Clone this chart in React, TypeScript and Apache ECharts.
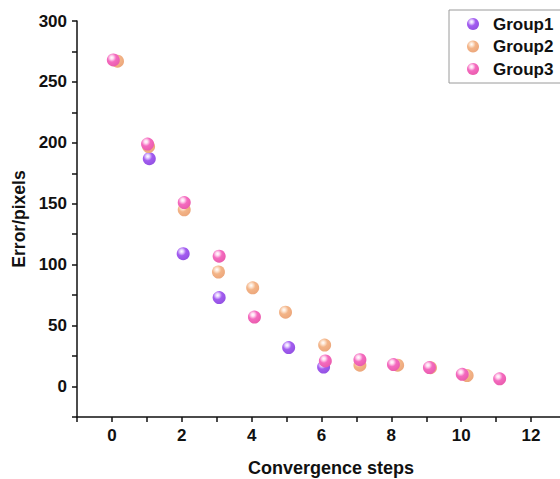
import React, { useEffect, useRef } from "react";
import * as echarts from "echarts";

const group1Steps = [1.07, 2.04, 3.07, 5.06, 6.06];
const group1Errors = [187, 109, 73, 32, 16];
const group2Steps = [0.16, 1.05, 2.07, 3.05, 4.03, 4.97, 6.09, 7.1, 8.18, 9.12, 10.17];
const group2Errors = [267, 197, 145, 94, 81, 61, 34, 17.5, 17.5, 15.5, 9];
const group3Steps = [0.04, 1.02, 2.07, 3.07, 4.08, 6.11, 7.1, 8.06, 9.09, 10.03, 11.1];
const group3Errors = [268, 199, 151, 107, 57, 21, 22, 18, 15.6, 10, 6.3];
const seriesNames = ["Group1", "Group2", "Group3"];
const baseColors = ["#a35cf0", "#f3b487", "#f46abf"];
const lightColors = ["#e6d2ff", "#fde6d4", "#ffd9f0"];
const darkColors = ["#9050e0", "#eba57a", "#e85aaa"];

const FONT = "Arial, 'Liberation Sans', sans-serif";

function sphere(i: number) {
  return new echarts.graphic.RadialGradient(0.38, 0.32, 0.75, [
    { offset: 0, color: "#ffffff" },
    { offset: 0.18, color: lightColors[i] },
    { offset: 0.45, color: baseColors[i] },
    { offset: 1, color: darkColors[i] },
  ]);
}

export default function App() {
  const ref = useRef<HTMLDivElement>(null);
  useEffect(() => {
    if (!ref.current) return;
    const chart = echarts.init(ref.current, undefined, { renderer: "svg" });
    const xs = [group1Steps, group2Steps, group3Steps];
    const ys = [group1Errors, group2Errors, group3Errors];
    chart.setOption({
      animation: false,
      backgroundColor: "#ffffff",
      grid: {
        left: 77,
        top: 21,
        width: 489,
        height: 396,
        containLabel: false,
        outerBoundsMode: "none",
      },
      legend: {
        orient: "vertical",
        left: 449,
        top: 10,
        padding: [5, 40, 5, 18],
        itemGap: 4.5,
        itemWidth: 12,
        itemHeight: 12,
        borderColor: "#9a9a9a",
        borderWidth: 1,
        data: seriesNames.map((n, i) => ({ name: n, icon: "circle", itemStyle: { color: sphere(i) } })),
        textStyle: {
          fontFamily: FONT,
          fontWeight: "bold",
          fontSize: 17,
          color: "#111",
          lineHeight: 18,
          padding: [0, 0, 0, 9],
        },
      },
      xAxis: {
        type: "value",
        min: -1,
        max: 13,
        interval: 1,
        name: "Convergence steps",
        nameLocation: "middle",
        nameGap: 42,
        nameTextStyle: {
          fontFamily: FONT,
          fontWeight: "bold",
          fontSize: 18,
          color: "#111",
          padding: [0, 0, 0, 19],
        },
        splitLine: { show: false },
        axisLine: { onZero: false, lineStyle: { color: "#111", width: 1.5 } },
        axisTick: { show: true, inside: false, length: 5, lineStyle: { color: "#111", width: 1.5 } },
        axisLabel: {
          fontFamily: FONT,
          fontWeight: "bold",
          fontSize: 17,
          color: "#111",
          margin: 10,
          formatter: (v: number) => (v >= 0 && v % 2 === 0 ? String(v) : ""),
        },
      },
      yAxis: {
        type: "value",
        min: -25,
        max: 300,
        interval: 25,
        name: "Error/pixels",
        nameLocation: "middle",
        nameGap: 48,
        nameTextStyle: { fontFamily: FONT, fontWeight: "bold", fontSize: 17.5, color: "#111" },
        splitLine: { show: false },
        axisLine: { onZero: false, lineStyle: { color: "#111", width: 1.5 } },
        axisTick: { show: true, inside: false, length: 5, lineStyle: { color: "#111", width: 1.5 } },
        axisLabel: {
          fontFamily: FONT,
          fontWeight: "bold",
          fontSize: 17,
          color: "#111",
          margin: 10,
          formatter: (v: number) => (v >= 0 && v % 50 === 0 ? String(v) : ""),
        },
      },
      series: seriesNames.map((n, i) => ({
        name: n,
        type: "scatter",
        symbol: "circle",
        symbolSize: 13,
        itemStyle: { color: sphere(i), opacity: 1 },
        emphasis: { disabled: true },
        data: xs[i].map((x, j) => [x, ys[i][j]]),
      })),
    });
    return () => chart.dispose();
  }, []);
  return (
    <div
      ref={ref}
      style={{ position: "fixed", left: 0, top: 0, width: 560, height: 479 }}
    />
  );
}
